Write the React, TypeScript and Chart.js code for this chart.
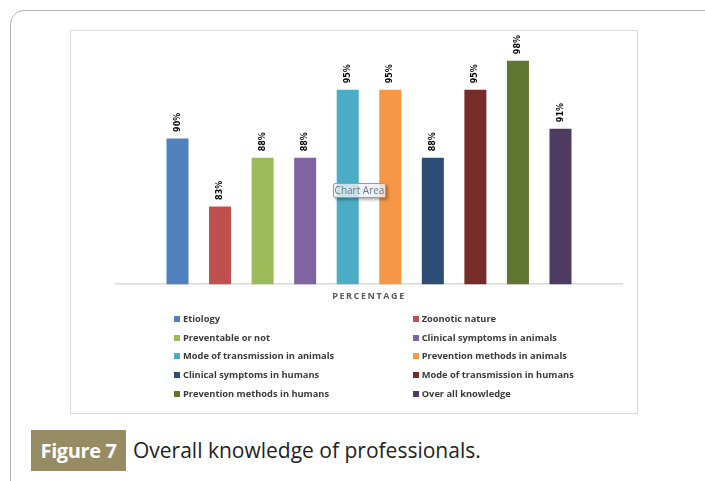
import React, { useEffect, useRef } from "react";
import { Chart, registerables } from "chart.js";

Chart.register(...registerables);

const categories: string[] = ["PERCENTAGE"];
const seriesNames: string[] = [
  "Etiology",
  "Zoonotic nature",
  "Preventable or not",
  "Clinical symptoms in animals",
  "Mode of transmission in animals",
  "Prevention methods in animals",
  "Clinical symptoms in humans",
  "Mode of transmission in humans",
  "Prevention methods in humans",
  "Over all knowledge",
];
const seriesValues: number[] = [90, 83, 88, 88, 95, 95, 88, 95, 98, 91];
const seriesColors: string[] = [
  "#4F81BD",
  "#C0504D",
  "#9BBB59",
  "#8064A2",
  "#4BACC6",
  "#F79646",
  "#2C4D75",
  "#772C2A",
  "#5F7530",
  "#4D3B62",
];
const yMin = 75;
const yMax = 100;
const captionLabel = "Figure 7";
const captionText = "Overall knowledge of professionals.";

const dataLabelPlugin = {
  id: "rotatedLabels",
  afterDatasetsDraw(chart: any) {
    const ctx = chart.ctx;
    ctx.save();
    ctx.font = "bold 8px 'DejaVu Sans'";
    ctx.fillStyle = "#000";
    ctx.textAlign = "left";
    ctx.textBaseline = "middle";
    chart.data.datasets.forEach((ds: any, i: number) => {
      const meta = chart.getDatasetMeta(i);
      const bar = meta.data[0];
      if (!bar) return;
      ctx.save();
      ctx.translate(bar.x, bar.y - 6.5);
      ctx.rotate(-Math.PI / 2);
      ctx.fillText(ds.data[0] + "%", 0, 0);
      ctx.restore();
    });
    ctx.restore();
  },
};

const spacingPlugin = {
  id: "axisSpacing",
  beforeDraw(chart: any) {
    chart.ctx.letterSpacing = "1.6px";
  },
  beforeDatasetsDraw(chart: any) {
    chart.ctx.letterSpacing = "0px";
  },
};

function ChartCanvas() {
  const ref = useRef<HTMLCanvasElement | null>(null);
  useEffect(() => {
    if (!ref.current) return;
    const chart = new Chart(ref.current, {
      type: "bar",
      data: {
        labels: categories,
        datasets: seriesNames.map((name, i) => ({
          label: name,
          data: [seriesValues[i]],
          backgroundColor: seriesColors[i],
          borderWidth: 0,
          categoryPercentage: 0.841,
          barPercentage: 0.517,
        })),
      },
      options: {
        animation: false,
        responsive: false,
        maintainAspectRatio: false,
        layout: { padding: { left: 46, right: 16, top: 11.2, bottom: 11 } },
        plugins: {
          legend: { display: false },
          tooltip: { enabled: false },
        },
        scales: {
          x: {
            grid: { display: false, drawTicks: false },
            border: { display: true, color: "#d9d9d9", width: 1.5 },
            ticks: {
              color: "#595959",
              font: { family: "'Open Sans'", size: 9, weight: "bold" },
              padding: 7,
            },
          },
          y: {
            display: false,
            min: yMin,
            max: yMax,
          },
        },
      },
      plugins: [dataLabelPlugin, spacingPlugin],
    });
    return () => chart.destroy();
  }, []);
  return (
    <canvas
      ref={ref}
      width={568}
      height={290}
      style={{ position: "absolute", left: 70, top: 30, width: 568, height: 290 }}
    />
  );
}

export default function App() {
  const rowTop = 319;
  const rowStep = 18.65;
  return (
    <div
      style={{
        position: "absolute",
        left: 0,
        top: 0,
        width: 705,
        height: 481,
        overflow: "hidden",
        background: "#fff",
        fontFamily: "'Open Sans', sans-serif",
      }}
    >
      <div
        style={{
          position: "absolute",
          left: 10,
          top: 10,
          width: 730,
          height: 520,
          border: "1px solid #b4b4b4",
          borderRadius: 14,
          boxSizing: "border-box",
        }}
      />
      <div
        style={{
          position: "absolute",
          left: 70,
          top: 30,
          width: 568,
          height: 384,
          border: "1px solid #dadada",
          boxSizing: "border-box",
        }}
      />
      <ChartCanvas />
      {seriesNames.map((name, i) => {
        const col = i % 2;
        const row = Math.floor(i / 2);
        const cy = rowTop + row * rowStep;
        const mx = col === 0 ? 174 : 412.7;
        return (
          <React.Fragment key={name}>
            <div
              style={{
                position: "absolute",
                left: mx,
                top: cy - 3,
                width: 6,
                height: 6,
                background: seriesColors[i],
              }}
            />
            <div
              style={{
                position: "absolute",
                left: mx + 9,
                top: cy - 7,
                height: 14,
                lineHeight: "14px",
                fontSize: 9.3,
                fontWeight: 700,
                color: "#3a3a3a",
                letterSpacing: 0,
                whiteSpace: "nowrap",
              }}
            >
              {name}
            </div>
          </React.Fragment>
        );
      })}
      <div
        style={{
          position: "absolute",
          left: 333,
          top: 183,
          width: 53,
          height: 15,
          border: "1px solid #9a9a9a",
          borderRadius: 2,
          background: "rgba(236,240,244,0.8)",
          boxShadow: "2px 2px 3px rgba(0,0,0,0.3)",
          boxSizing: "border-box",
          color: "#6a7888",
          fontSize: 10,
          lineHeight: "13px",
          textAlign: "center",
          whiteSpace: "nowrap",
        }}
      >
        Chart Area
      </div>
      <div
        style={{
          position: "absolute",
          left: 31,
          top: 430,
          width: 95,
          height: 41,
          background: "#978b63",
          color: "#fff",
          fontWeight: 700,
          fontSize: 20,
          lineHeight: "41px",
          textAlign: "center",
          letterSpacing: -0.4,
          whiteSpace: "nowrap",
        }}
      >
        {captionLabel}
      </div>
      <div
        style={{
          position: "absolute",
          left: 133,
          top: 430,
          height: 41,
          lineHeight: "41px",
          fontSize: 21,
          color: "#222",
          whiteSpace: "nowrap",
        }}
      >
        {captionText}
      </div>
    </div>
  );
}
